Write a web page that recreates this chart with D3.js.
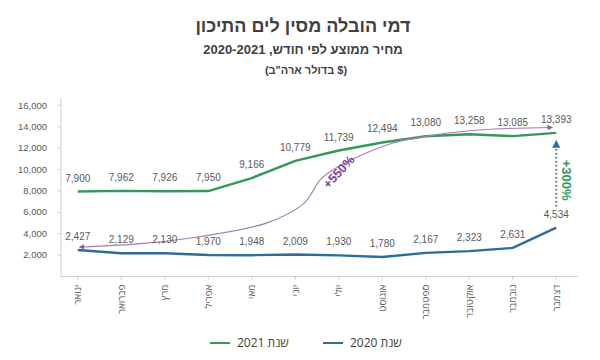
<!DOCTYPE html>
<html>
<head>
<meta charset="utf-8">
<script src="https://cdn.jsdelivr.net/npm/d3@7"></script>
<style>
  body { margin: 0; background: #fff; }
  svg { display: block; }
</style>
</head>
<body>
<div id="chart"></div>
<script>
// data
const months = ["ינואר", "פברואר", "מרץ", "אפריל", "מאי", "יוני", "יולי", "אוגוסט", "ספטמבר", "אוקטובר", "נובמבר", "דצמבר"];
const values2021 = [7900, 7962, 7926, 7950, 9166, 10779, 11739, 12494, 13080, 13258, 13085, 13393];
const values2020 = [2427, 2129, 2130, 1970, 1948, 2009, 1930, 1780, 2167, 2323, 2631, 4534];
const yTicks = [2000, 4000, 6000, 8000, 10000, 12000, 14000, 16000];
const seriesNames = ["שנת 2021", "שנת 2020"];
// annotation arrow (month index, value) for the +550% curve
const growthCurve = [[0.05, 2700], [1.5, 3050], [2.8, 3680], [4.35, 4970], [5.2, 6800], [5.4, 7900], [5.55, 8900], [5.8, 9750], [6.3, 10900], [7.25, 12450], [8.2, 13200], [9.3, 13680], [10.9, 13900]];

const width = 600, height = 360;
const green = "#33995a", blue = "#2c6d9c", purple = "#a07fb3";

const svg = d3.select("#chart").append("svg")
  .attr("width", width)
  .attr("height", height)
  .style("font-family", "'Liberation Sans', Arial, sans-serif");

const defs = svg.append("defs");
defs.append("marker").attr("id", "purpleHead")
  .attr("viewBox", "0 0 10 10").attr("refX", 8).attr("refY", 5)
  .attr("markerWidth", 5).attr("markerHeight", 5).attr("orient", "auto-start-reverse")
  .append("path").attr("d", "M0,0L10,5L0,10z").attr("fill", "#8e5aa6");
defs.append("marker").attr("id", "blueHead")
  .attr("viewBox", "0 0 10 10").attr("refX", 5).attr("refY", 5)
  .attr("markerWidth", 4).attr("markerHeight", 4).attr("orient", "auto")
  .append("path").attr("d", "M0,0L10,5L0,10z").attr("fill", blue);

// titles
svg.append("text").attr("x", 303).attr("y", 32).attr("text-anchor", "middle")
  .style("font-size", "18px").style("font-weight", "700").attr("fill", "#404040")
  .text("דמי הובלה מסין לים התיכון");
svg.append("text").attr("x", 303).attr("y", 54).attr("text-anchor", "middle")
  .style("font-size", "13px").style("font-weight", "700").attr("fill", "#404040")
  .text("מחיר ממוצע לפי חודש,  2020-2021");
svg.append("text").attr("x", 306).attr("y", 74).attr("text-anchor", "middle")
  .style("font-size", "11px").style("font-weight", "700").attr("fill", "#404040")
  .text('(בדולר ארה"ב $)');

// scales
const x = d3.scaleBand().domain(months).range([56, 578]);
const xc = m => x(m) + x.bandwidth() / 2;
const xi = i => x(months[0]) + x.bandwidth() / 2 + i * x.step();
const y = d3.scaleLinear().domain([0, 16000]).range([276, 105]);

// axes
const yAxis = svg.append("g").attr("transform", "translate(61,0)")
  .call(d3.axisLeft(y).tickValues(yTicks).tickSize(3).tickPadding(11).tickFormat(d3.format(",")));
yAxis.select(".domain").attr("stroke", "#d0d0d0").attr("d", "M0,98V276.5");
yAxis.selectAll(".tick line").attr("stroke", "#c8c8c8");
yAxis.selectAll(".tick text").attr("fill", "#595959").style("font-size", "9.5px")
  .style("font-family", "'Liberation Sans', Arial, sans-serif");

const xAxis = svg.append("g").attr("transform", "translate(0,276.5)")
  .call(d3.axisBottom(x).tickSize(3).tickSizeOuter(0));
xAxis.select(".domain").attr("stroke", "#d0d0d0").attr("d", "M61,0H578");
xAxis.selectAll(".tick line").attr("stroke", "#c8c8c8");
xAxis.selectAll(".tick text")
  .attr("fill", "#595959").style("font-size", "10px")
  .style("font-family", "'Open Sans', 'Noto Sans', sans-serif")
  .attr("text-anchor", "end")
  .attr("transform", "rotate(-90)")
  .attr("x", -8).attr("y", 0).attr("dy", "0.35em");

// lines
const line = d3.line().x((d, i) => xc(months[i])).y(d => y(d));
svg.append("path").datum(values2020).attr("d", line)
  .attr("fill", "none").attr("stroke", blue).attr("stroke-width", 2.4).attr("stroke-linejoin", "round");
svg.append("path").datum(values2021).attr("d", line)
  .attr("fill", "none").attr("stroke", green).attr("stroke-width", 2.4).attr("stroke-linejoin", "round");

// +550% curve
svg.append("path").datum(growthCurve)
  .attr("d", d3.line().x(d => xi(d[0])).y(d => y(d[1])).curve(d3.curveCatmullRom))
  .attr("fill", "none").attr("stroke", purple).attr("stroke-width", 1.1)
  .attr("marker-start", "url(#purpleHead)").attr("marker-end", "url(#purpleHead)");
svg.append("text")
  .attr("transform", `translate(${xi(6.0)},${y(9750)}) rotate(-47)`)
  .attr("text-anchor", "middle").attr("dy", "0.35em")
  .style("font-size", "12.5px").style("font-weight", "700").attr("fill", "#7a3f9c")
  .text("+550%");

// +300% dotted arrow
const last = months.length - 1;
svg.append("line")
  .attr("x1", xc(months[last])).attr("x2", xc(months[last]))
  .attr("y1", y(values2020[last]) - 21).attr("y2", y(values2021[last]) + 11)
  .attr("stroke", blue).attr("stroke-width", 2).attr("stroke-dasharray", "1.5,2.5")
  .attr("marker-end", "url(#blueHead)");
svg.append("text")
  .attr("transform", `translate(${xc(months[last]) + 10},${(y(values2020[last]) + y(values2021[last])) / 2}) rotate(90)`)
  .attr("text-anchor", "middle").attr("dy", "0.35em")
  .style("font-size", "13px").style("font-weight", "700").attr("fill", green)
  .text("+300%");

// data labels
const fmt = d3.format(",");
svg.selectAll(".lbl21").data(values2021).join("text").attr("class", "lbl21")
  .attr("x", (d, i) => xc(months[i])).attr("y", d => y(d) - 10)
  .attr("text-anchor", "middle").style("font-size", "10px").attr("fill", "#595959")
  .text(d => fmt(d));
svg.selectAll(".lbl20").data(values2020).join("text").attr("class", "lbl20")
  .attr("x", (d, i) => xc(months[i])).attr("y", d => y(d) - 10)
  .attr("text-anchor", "middle").style("font-size", "10px").attr("fill", "#595959")
  .text(d => fmt(d));

// legend
const legend = svg.append("g").selectAll("g").data(seriesNames).join("g")
  .attr("transform", (d, i) => `translate(${210 + i * 113},343)`);
legend.append("line").attr("x1", 0).attr("x2", 20)
  .attr("stroke", (d, i) => i === 0 ? green : blue).attr("stroke-width", 2);
legend.append("text").attr("dy", "0.35em")
  .style("font-size", "12px").style("font-family", "'Open Sans', 'Noto Sans', sans-serif")
  .attr("fill", "#404040").attr("text-anchor", "middle")
  .text(d => d)
  .attr("x", function () { return 27 + this.getComputedTextLength() / 2; });
</script>
</body>
</html>
